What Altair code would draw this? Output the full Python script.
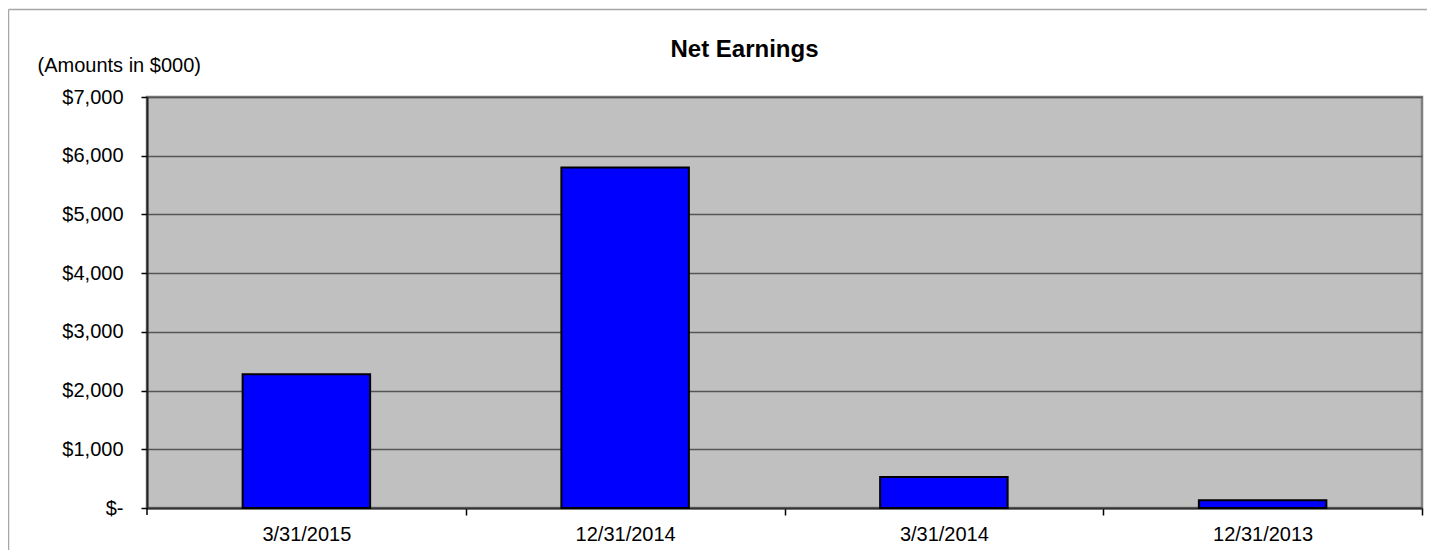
import altair as alt
import pandas as pd

periods = ["3/31/2015", "12/31/2014", "3/31/2014", "12/31/2013"]
earnings = [2280, 5800, 530, 130]
y_ticks = [0, 1000, 2000, 3000, 4000, 5000, 6000, 7000]

df = pd.DataFrame({"period": periods, "earnings": earnings})

FONT = "Liberation Sans"
STEP_HALF_GAP = (1275 / 4) * 0.3  # distance from bar edge to category boundary

bars = alt.Chart(df).mark_bar(
    color="#0000FF", stroke="#000000", strokeWidth=2
).encode(
    x=alt.X(
        "period:N",
        sort=periods,
        title=None,
        scale=alt.Scale(paddingInner=0.6, paddingOuter=0.3),
        axis=alt.Axis(
            labelAngle=0, labelFontSize=20, labelFont=FONT, labelColor="#000000",
            labelPadding=9, tickSize=7, tickColor="#000000", tickWidth=1.5,
            bandPosition=1, tickExtra=False, tickOffset=STEP_HALF_GAP,
            labelOffset=-STEP_HALF_GAP,
            domainColor="#333333", domainWidth=2,
        ),
    ),
    y=alt.Y(
        "earnings:Q",
        scale=alt.Scale(domain=[0, 7000], nice=False),
        axis=alt.Axis(
            values=y_ticks,
            labelExpr="datum.value == 0 ? '$-' : '$' + format(datum.value, ',')",
            labelFontSize=20, labelFont=FONT, labelColor="#000000",
            labelPadding=18, tickSize=6, tickColor="#000000", tickWidth=1.5,
            domainColor="#222222", domainWidth=2,
            grid=True, gridColor="#555555", gridWidth=1.5,
            title="(Amounts in $000)", titleAngle=0, titleAlign="left",
            titleBaseline="alphabetic", titleX=-110, titleY=-26,
            titleFont=FONT, titleFontSize=20, titleFontWeight="normal",
            titleColor="#000000",
        ),
    ),
)

frame_df = pd.DataFrame({"k": [0]})
border_left = alt.Chart(frame_df).mark_rule(color="#a6a6a6", strokeWidth=1.5).encode(
    x=alt.value(-138.5), y=alt.value(-87.5), y2=alt.value(460)
)
border_top = alt.Chart(frame_df).mark_rule(color="#a6a6a6", strokeWidth=1.5).encode(
    x=alt.value(-138.5), x2=alt.value(1300), y=alt.value(-87.5)
)
first_tick = alt.Chart(frame_df).mark_rule(color="#000000", strokeWidth=1.5).encode(
    x=alt.value(0), y=alt.value(411), y2=alt.value(418)
)

chart = alt.layer(border_left, border_top, bars, first_tick).properties(
    width=1275,
    height=411,
    title=alt.TitleParams(
        "Net Earnings", font=FONT, fontSize=24, fontWeight="bold",
        color="#000000", anchor="middle", dx=-40, dy=72, offset=0,
        baseline="alphabetic",
    ),
    autosize=alt.AutoSizeParams(type="none"),
    padding={"left": 139, "top": 89, "right": 5, "bottom": 42},
).configure_view(
    fill="#C0C0C0", stroke="#808080", strokeWidth=2.5
)

chart.save("out.html", embed_options={"renderer": "svg", "actions": False})
